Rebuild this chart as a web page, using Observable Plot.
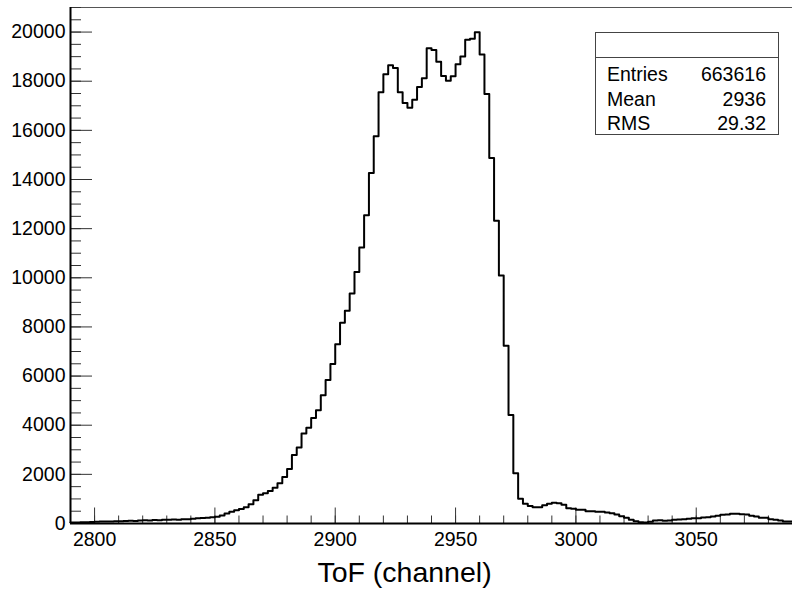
<!DOCTYPE html>
<html>
<head>
<meta charset="utf-8">
<script src="https://cdn.jsdelivr.net/npm/d3@7"></script>
<script src="https://cdn.jsdelivr.net/npm/@observablehq/plot@0.6"></script>
<style>
  html, body { margin: 0; padding: 0; background: white; }
  #wrap { position: relative; width: 792px; height: 596px; font-family: "Liberation Sans", Arial, Helvetica, sans-serif; }
  #stats { position: absolute; left: 595px; top: 32px; width: 184px; height: 103px; box-sizing: border-box; border: 1px solid #444; background: white; font-size: 19.5px; color: #000; }
  #stats .title { height: 24px; border-bottom: 1px solid #444; }
  #stats .row { display: flex; justify-content: space-between; height: 24.5px; line-height: 24.5px; padding: 0 12px 0 11px; }
  #stats .rows { padding-top: 4px; }
</style>
</head>
<body>
<div id="wrap"></div>
<script>
// Histogram definition (ToF in channels)
const binLow = 2790;
const binWidth = 2;
const counts = [
  40, 45, 50, 55, 60, 75, 80, 85, 80, 90,
  95, 100, 110, 100, 120, 130, 125, 140, 135, 150,
  155, 160, 150, 170, 175, 190, 210, 225, 235, 250,
  270, 330, 405, 475, 535, 595, 665, 780, 950, 1170,
  1230, 1320, 1450, 1640, 1890, 2220, 2790, 3090, 3660, 3900,
  4290, 4610, 5220, 5840, 6490, 7300, 8170, 8660, 9360, 10240,
  11230, 12550, 14260, 15760, 17550, 18280, 18650, 18540, 17550, 17110,
  16920, 17250, 17760, 18120, 19340, 19270, 18790, 18210, 18020, 18200,
  18690, 19010, 19690, 19730, 19990, 19090, 17480, 14870, 12320, 10090,
  7230, 4420, 2045, 1004, 800, 710, 663, 663, 744, 800,
  840, 826, 760, 622, 598, 557, 557, 500, 500, 475,
  475, 447, 419, 366, 297, 232, 150, 94, 53, 40,
  69, 122, 134, 108, 122, 150, 163, 176, 190, 217,
  217, 244, 257, 285, 312, 353, 366, 393, 393, 380,
  366, 312, 285, 230, 230, 176, 150, 122, 81, 81
];
const xDomain = [2790, 3090];
const yDomain = [0, 21000];
const xTicks = [2800, 2850, 2900, 2950, 3000, 3050];
const yTicks = [0, 2000, 4000, 6000, 8000, 10000, 12000, 14000, 16000, 18000, 20000];
const xMinorTicks = d3.range(2800, 3091, 10);
const yMinorTicks = d3.range(0, 21001, 500);
const xLabel = "ToF (channel)";
const statsLabels = ["Entries", "Mean", "RMS"];
const statsValues = ["663616", "2936", "29.32"];

const points = counts.map((c, i) => ({x: binLow + i * binWidth, y: c}));
points.push({x: binLow + counts.length * binWidth, y: counts[counts.length - 1]});

const font = '"Liberation Sans", Arial, Helvetica, sans-serif';

const chart = Plot.plot({
  width: 792,
  height: 596,
  marginLeft: 70,
  marginRight: 0,
  marginTop: 7,
  marginBottom: 73,
  style: {fontFamily: font, background: "white", color: "black"},
  x: {domain: xDomain, label: null},
  y: {domain: yDomain, label: null},
  marks: [
    Plot.frame({stroke: "#555", strokeWidth: 1}),
    // minor and major ticks drawn inside the frame
    Plot.tickX(xMinorTicks, {x: d => d, insetTop: 508.5, stroke: "#333", strokeWidth: 1}),
    Plot.tickX(xTicks, {x: d => d, insetTop: 500.5, stroke: "#333", strokeWidth: 1}),
    Plot.tickY(yMinorTicks, {y: d => d, insetRight: 711, stroke: "#333", strokeWidth: 1}),
    Plot.tickY(yTicks, {y: d => d, insetRight: 700, stroke: "#333", strokeWidth: 1}),
    Plot.axisX({ticks: xTicks, tickSize: 0, tickPadding: 9, fontSize: 19.5, label: null, tickFormat: d => String(d)}),
    Plot.axisY({ticks: yTicks, tickSize: 0, tickPadding: 5, fontSize: 19.5, label: null, tickFormat: d => String(d)}),
    Plot.line(points, {x: "x", y: "y", curve: "step-after", stroke: "black", strokeWidth: 2}),
    Plot.ruleX([xDomain[0]], {stroke: "black", strokeWidth: 2}),
    Plot.ruleY([0], {stroke: "black", strokeWidth: 2}),
    Plot.text([xLabel], {text: d => d, frameAnchor: "bottom", dx: -27, dy: 58, fontSize: 28.5, fill: "black"})
  ]
});

const wrap = document.getElementById("wrap");
wrap.appendChild(chart);

const stats = document.createElement("div");
stats.id = "stats";
let html = '<div class="title"></div><div class="rows">';
statsLabels.forEach((l, i) => {
  html += `<div class="row"><span>${l}</span><span>${statsValues[i]}</span></div>`;
});
html += '</div>';
stats.innerHTML = html;
wrap.appendChild(stats);
</script>
</body>
</html>
